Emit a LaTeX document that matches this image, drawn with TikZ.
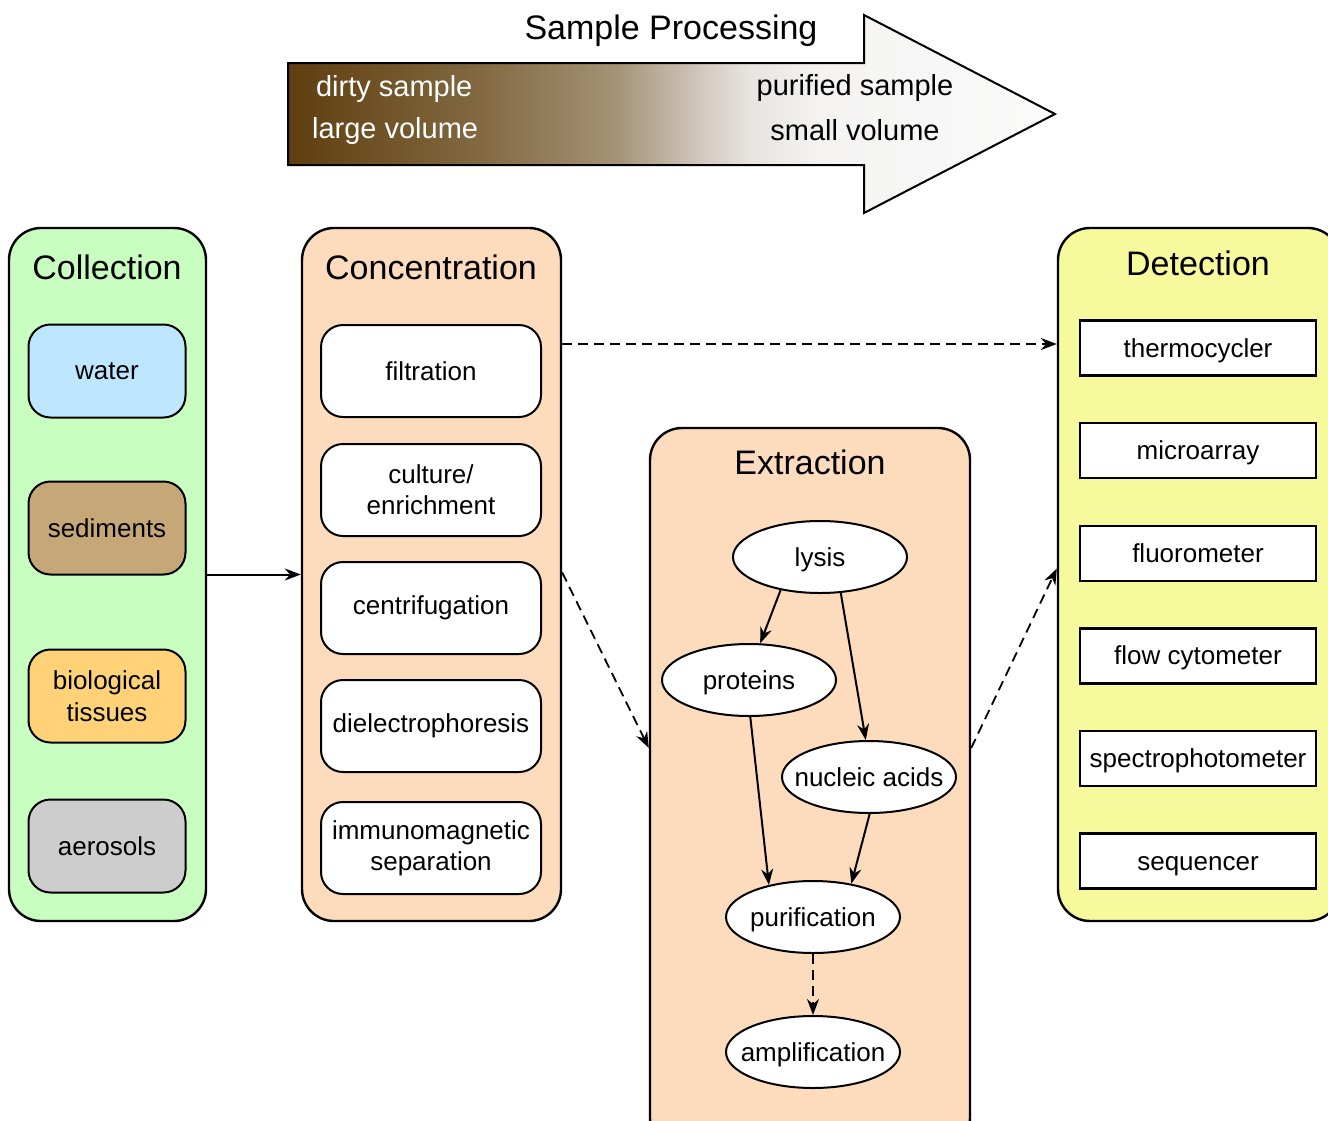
\documentclass[tikz,border=0pt]{standalone}
\usepackage{fontspec}
\setmainfont{Liberation Sans}
\usetikzlibrary{arrows.meta, shapes.geometric}
\definecolor{CollectGreen}{RGB}{200, 255, 192}
\definecolor{WaterBlue}{RGB}{190, 230, 255}
\definecolor{SedimentTan}{RGB}{198, 168, 120}
\definecolor{TissueOrange}{RGB}{255, 210, 120}
\definecolor{AerosolGray}{RGB}{205, 205, 205}
\definecolor{StagePeach}{RGB}{253, 220, 190}
\definecolor{DetectYellow}{RGB}{246, 250, 156}
\definecolor{DirtyBrown}{RGB}{95, 62, 15}
\definecolor{DarkMid}{RGB}{130, 105, 65}
\definecolor{MidBrown}{RGB}{165, 148, 120}
\definecolor{PaleBrown}{RGB}{210, 200, 190}
\definecolor{Beige}{RGB}{232, 228, 224}
\definecolor{CleanGray}{RGB}{244, 243, 242}
\definecolor{CleanWhite}{RGB}{251, 251, 251}
\pgfdeclarehorizontalshading{processshade}{100bp}{color(0bp)=(DirtyBrown); color(25bp)=(DirtyBrown); color(37.5bp)=(DarkMid); color(46.6bp)=(MidBrown); color(51.9bp)=(PaleBrown); color(55.1bp)=(Beige); color(59.7bp)=(CleanGray); color(75bp)=(CleanWhite); color(100bp)=(CleanWhite)}

\begin{document}
\begin{tikzpicture}[
    x=0.5pt, y=-0.5pt, % one unit is one pixel of the layout
    >={Stealth[length=8pt, width=6pt]},
    titlefont/.style={font=\fontsize{17}{20}\selectfont},
    arrowtext/.style={font=\fontsize{14.5}{17}\selectfont},
    stagebox/.style={draw, line width=1.2pt, rounded corners=16pt, minimum height=346.5pt, inner sep=0pt},
    srcbox/.style={draw, line width=1pt, rounded corners=11pt, minimum width=78.5pt, minimum height=46.5pt, align=center, font=\fontsize{13}{15.8}\selectfont},
    concbox/.style={draw, fill=white, line width=1pt, rounded corners=11pt, minimum width=110pt, minimum height=46pt, align=center, font=\fontsize{13}{15.5}\selectfont},
    devbox/.style={draw, fill=white, line width=1.2pt, minimum width=118pt, minimum height=27.5pt, text height=9.5pt, text depth=0.5pt, font=\fontsize{13}{15.5}\selectfont},
    extnode/.style={draw, fill=white, ellipse, line width=1pt, minimum width=87pt, minimum height=36pt, inner xsep=-8pt, inner ysep=0pt, text height=9.5pt, text depth=0.5pt, font=\fontsize{13}{15.5}\selectfont},
    flowdash/.style={dash pattern=on 5pt off 3pt}
]
\useasboundingbox (0,0) rectangle (1328,1120);
\clip (0,0) rectangle (1328,1120);

% --- Sample processing arrow ---
\shadedraw[shading=processshade, line width=1pt] (288,63) -- (864,63) -- (864,15) -- (1055,114) -- (864,213) -- (864,165) -- (288,165) -- cycle;
\node[titlefont] (proctitle) at (671,31) {Sample Processing};
\node[arrowtext, text=white, anchor=west] (dirty) at (309,89) {dirty sample};
\node[arrowtext, text=white, anchor=west] (large) at (305,131) {large volume};
\node[arrowtext] (purified) at (855,88) {purified sample};
\node[arrowtext] (small) at (855,130) {small volume};

% --- Stage boxes ---
\node[stagebox, fill=CollectGreen, minimum width=98.5pt] (coll) at (107.5,574.5) {};
\node[stagebox, fill=StagePeach, minimum width=129.5pt] (conc) at (431.5,574.5) {};
\node[stagebox, fill=StagePeach, minimum width=160pt, minimum height=361pt] (extr) at (810,789) {};
\node[stagebox, fill=DetectYellow, minimum width=141pt] (det) at (1199,574.5) {};

\node[titlefont] (colltitle) at (107,267) {Collection};
\node[titlefont] (conctitle) at (431,267) {Concentration};
\node[titlefont] (extrtitle) at (810,462) {Extraction};
\node[titlefont] (dettitle) at (1198,263) {Detection};

% --- Collection: sample types ---
\node[srcbox, fill=WaterBlue] (water) at (107,371) {water};
\node[srcbox, fill=SedimentTan] (sediments) at (107,528) {sediments};
\node[srcbox, fill=TissueOrange] (tissues) at (107,696) {biological\\tissues};
\node[srcbox, fill=AerosolGray] (aerosols) at (107,846) {aerosols};

% --- Concentration methods ---
\node[concbox] (filtration) at (431,371) {filtration};
\node[concbox] (culture) at (431,490) {culture/\\enrichment};
\node[concbox] (centrifuge) at (431,608) {centrifugation};
\node[concbox] (dielectro) at (431,726) {dielectrophoresis};
\node[concbox] (immuno) at (431,848) {immunomagnetic\\separation};

% --- Extraction steps ---
\node[extnode] (lysis) at (820,557) {lysis};
\node[extnode] (proteins) at (749,680) {proteins};
\node[extnode] (nucleic) at (869,777) {nucleic acids};
\node[extnode] (purification) at (813,917) {purification};
\node[extnode] (amplification) at (813,1052) {amplification};

% --- Detection instruments ---
\foreach \dev/\name [count=\i from 0] in {thermo/thermocycler, microarray/microarray, fluoro/fluorometer, flow/flow cytometer, spectro/spectrophotometer, sequencer/sequencer}
{
    \node[devbox] (\dev) at (1198,348+102.6*\i) {\name};
}

% --- Connectors between stages ---
\draw[->, line width=1pt] (coll) -- (conc);
\draw[->, flowdash, line width=1.1pt] ([yshift=2pt]conc.east |- thermo) -- ([yshift=2pt]det.west |- thermo);
\draw[->, flowdash, line width=0.9pt] ([yshift=1pt]conc.east) -- ([yshift=20.5pt]extr.west);
\draw[->, flowdash, line width=0.9pt] ([yshift=20.5pt]extr.east) -- ([yshift=3pt]det.west);

% --- Connectors inside extraction ---
\draw[->, line width=1pt] (lysis.220) -- (proteins.73);
\draw[->, line width=1pt] (lysis.300) -- (nucleic.95);
\draw[->, line width=1pt] (proteins.272) -- (purification.144);
\draw[->, line width=1pt] (nucleic.271) -- (purification.41);
\draw[->, flowdash, line width=1pt] (purification) -- (amplification);

\end{tikzpicture}
\end{document}
